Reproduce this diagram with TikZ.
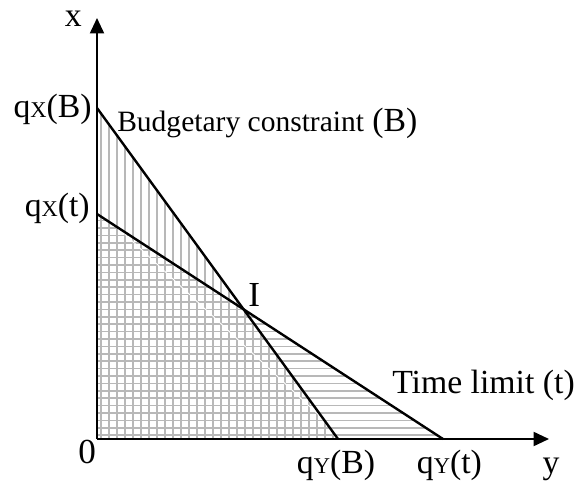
\documentclass[tikz,border=0pt]{standalone}
\usepackage{fontspec}
\setmainfont{Liberation Serif}
\usetikzlibrary{arrows.meta,calc}

\newcommand{\lowcap}[1]{{\fontsize{16}{16}\selectfont #1}}

\begin{document}
\begin{tikzpicture}[
  axis/.style={line width=1.4pt, -{Triangle[length=11pt, width=10pt]}},
  limit/.style={line width=1.7pt},
  hatch/.style={draw=black!28, line width=1.1pt},
  lab/.style={inner sep=0pt, font=\fontsize{24}{27}\selectfont}]
  \useasboundingbox (-2.425,-1.15) rectangle (12.075,10.975);

  % Points on the axes
  \coordinate (O) at (0,0);
  \coordinate (xB) at (0,8.275);
  \coordinate (xt) at (0,5.625);
  \coordinate (yB) at (6.025,0);
  \coordinate (yt) at (8.65,0);
  \coordinate (xend) at (0,10.525);
  \coordinate (yend) at (11.3,0);
  \coordinate (I) at (intersection of xB--yB and xt--yt);

  % Vertical hatching under the budgetary constraint
  \begin{scope}
    \clip (O) -- (xB) -- (yB) -- cycle;
    \foreach \i in {1,...,31}
      \draw[hatch] (\i*0.2-0.1, 0) -- ++(0, 8.4);
  \end{scope}

  % Horizontal hatching under the time limit
  \begin{scope}
    \clip (O) -- (xt) -- (yt) -- cycle;
    \foreach \j in {1,...,31}
      \draw[hatch] (0, \j*0.185-0.09) -- ++(8.7, 0);
  \end{scope}

  % Light seam across the grid
  \coordinate (wA) at ($(xt)!0.06!(yt)$);
  \coordinate (wB) at ($(xB)!0.943!(yB)$);
  \draw[white, line width=0.6pt] (wA) -- (wB);

  % Constraints
  \draw[limit] (xB) -- (yB);
  \draw[limit] (xt) -- (yt);

  % Axes
  \draw[axis] (O) -- (xend);
  \draw[axis] (O) -- (yend);

  % Labels
  \node[lab, anchor=base east] (xlab) at (-0.375,10.3) {x};
  \node[lab, anchor=base east] (qxB) at (-0.125,8.025) {q\lowcap{X}(B)};
  \node[lab, anchor=base east] (qxt) at (-0.175,5.55) {q\lowcap{X}(t)};
  \node[lab, anchor=base west] (budget) at (0.5,7.675)
    {{\fontsize{21}{24}\selectfont Budgetary constraint} (B)};
  \node[lab, anchor=base west, font=\fontsize{25}{28}\selectfont] (Ilab) at (3.775,3.3) {I};
  \node[lab, anchor=base west] (time) at (7.375,1.15) {Time limit (t)};
  \node[lab, anchor=base east, font=\fontsize{25}{28}\selectfont] (zero) at (-0.02,-0.6) {0};
  \node[lab, anchor=base] (qyB) at (5.975,-0.85) {q\lowcap{Y}(B)};
  \node[lab, anchor=base] (qyt) at (8.81,-0.85) {q\lowcap{Y}(t)};
  \node[lab, anchor=base] (ylab) at (11.35,-0.85) {y};
\end{tikzpicture}
\end{document}
